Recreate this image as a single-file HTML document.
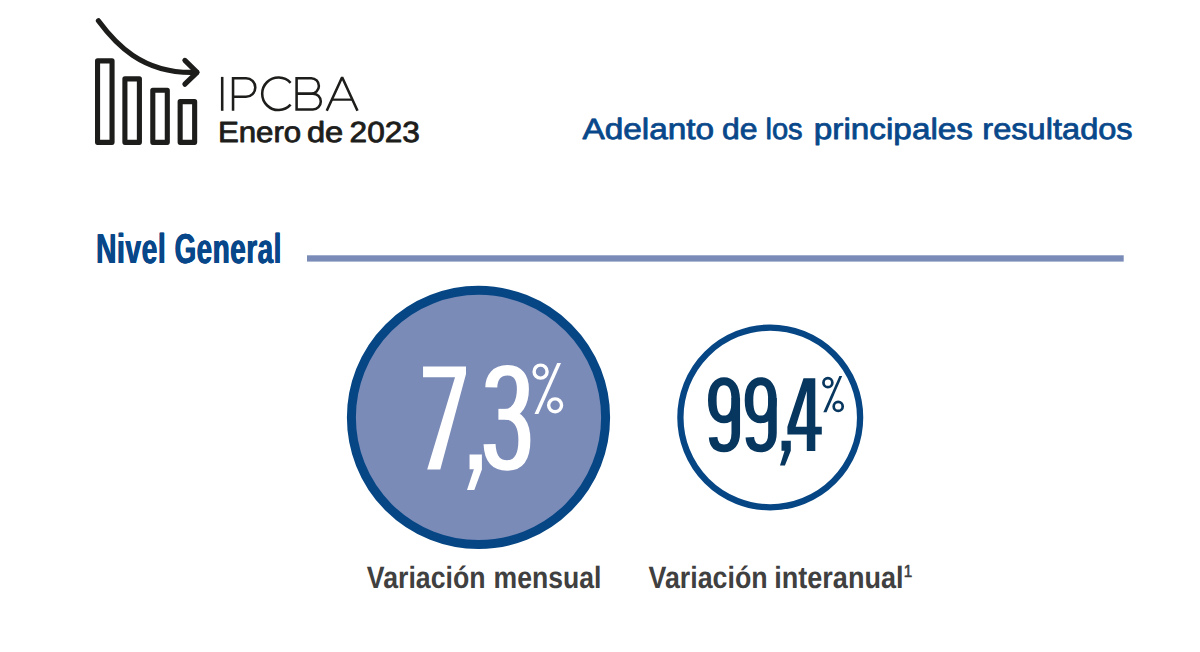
<!DOCTYPE html>
<html lang="es">
<head>
<meta charset="utf-8">
<title>IPCBA Enero de 2023</title>
<style>
html,body{margin:0;padding:0;background:#ffffff;overflow:hidden;}
body{width:1200px;height:652px;position:relative;font-family:"Liberation Sans",sans-serif;}
svg{display:block;position:absolute;left:0;top:0;}
text{font-family:"Liberation Sans",sans-serif;text-rendering:geometricPrecision;}
</style>
</head>
<body>
<svg width="1200" height="652" viewBox="0 0 1200 652">
  <rect x="0" y="0" width="1200" height="652" fill="#ffffff"/>

  <!-- logo icon: bars + arrow -->
  <g fill="none" stroke="#1d1d1b" stroke-width="5.1" stroke-linejoin="round" stroke-linecap="round">
    <rect x="97.55" y="60.85" width="14.5" height="81.5"/>
    <rect x="124.9" y="78.85" width="14.5" height="63.5"/>
    <rect x="152.8" y="90.25" width="14.5" height="52.1"/>
    <rect x="180.15" y="101.65" width="14.5" height="40.7"/>
  </g>
  <g fill="none" stroke="#1d1d1b" stroke-width="5.15" stroke-linejoin="round" stroke-linecap="round">
    <path d="M98.4,20.7 C114,41.8 141.6,74.6 196.6,72.3"/>
    <path d="M184.9,60.4 L197.1,72.3 L184.9,84.2"/>
  </g>

  <!-- IPCBA (thin geometric letters) -->
  <g fill="none" stroke="#1d1d1b" stroke-width="2.55" stroke-linejoin="miter" stroke-linecap="butt" role="img" aria-label="IPCBA">
    <title>IPCBA</title>
    <path d="M222.2,76.9 V110.8"/>
    <path d="M233.05,110.8 V78.2 H246 A9.29,9.29 0 0 1 246,96.78 H233.05"/>
    <path d="M290.6,82.84 A16.3,16.3 0 1 0 290.6,104.66"/>
    <path d="M296.6,93.6 V78.2 H311.2 A7.7,7.7 0 0 1 311.2,93.6 H296.6 V109.5 H312.85 A7.95,7.95 0 0 0 312.85,93.6 H310"/>
    <path stroke-linejoin="bevel" d="M326.75,110.8 L342.13,77.2 L357.5,110.8"/>
    <path stroke-width="2.2" d="M331.9,99.65 H352.4"/>
  </g>
  <!-- Enero de 2023 -->
  <g transform="translate(217.92,142.00) scale(1.0732,1)" font-size="29.1" font-weight="normal" fill="#1d1d1b" stroke="#1d1d1b" stroke-width="0.85" stroke-linejoin="round"><text>Enero</text></g>
  <g transform="translate(306.89,142.00) scale(1.1233,1)" font-size="29.1" font-weight="normal" fill="#1d1d1b" stroke="#1d1d1b" stroke-width="0.85" stroke-linejoin="round"><text>de</text></g>
  <g transform="translate(349.57,142.00) scale(1.0851,1)" font-size="29.1" font-weight="normal" fill="#1d1d1b" stroke="#1d1d1b" stroke-width="0.85" stroke-linejoin="round"><text>2023</text></g>

  <!-- title -->
  <g transform="translate(582.40,139.00) scale(1.1355,1)" font-size="29.4" font-weight="normal" fill="#08488a" stroke="#08488a" stroke-width="0.8" stroke-linejoin="round"><text>Adelanto</text></g>
  <g transform="translate(722.00,139.00) scale(1.0883,1)" font-size="29.4" font-weight="normal" fill="#08488a" stroke="#08488a" stroke-width="0.8" stroke-linejoin="round"><text>de</text></g>
  <g transform="translate(765.49,139.00) scale(0.9890,1)" font-size="29.4" font-weight="normal" fill="#08488a" stroke="#08488a" stroke-width="0.8" stroke-linejoin="round"><text>los</text></g>
  <g transform="translate(813.86,139.00) scale(1.1321,1)" font-size="29.4" font-weight="normal" fill="#08488a" stroke="#08488a" stroke-width="0.8" stroke-linejoin="round"><text>principales</text></g>
  <g transform="translate(982.34,139.00) scale(1.1085,1)" font-size="29.4" font-weight="normal" fill="#08488a" stroke="#08488a" stroke-width="0.8" stroke-linejoin="round"><text>resultados</text></g>

  <!-- Nivel General -->
  <g transform="translate(95.63,263.00) scale(0.6734,1)" font-size="41.87" font-weight="bold" fill="#08488a"><text id="t5" letter-spacing="0.891">Nivel</text><use href="#t5" x="0.594"/><use href="#t5" x="1.188"/></g>
  <g transform="translate(174.13,263.00) scale(0.6626,1)" font-size="41.87" font-weight="bold" fill="#08488a"><text id="t10" letter-spacing="0.905">General</text><use href="#t10" x="0.604"/><use href="#t10" x="1.207"/></g>
  <rect x="307" y="255.3" width="816.7" height="6.3" fill="#7a8bb8"/>

  <!-- circle 1 -->
  <circle cx="478.5" cy="417.45" r="127.1" fill="#7b8bb8" stroke="#064685" stroke-width="9"/>
  <g role="img" aria-label="7,3%"><title>7,3%</title>
  <g fill="#ffffff" stroke="none">
    <!-- 7 -->
    <path d="M423.05,366.4 H466 V374 L440.3,469.4 H427.2 L455,377.2 H423.05 Z"/>
    <!-- , -->
    <path d="M469.55,454.55 H481.9 V469.5 L474.3,489.9 H467 L473.9,469.3 H469.55 Z"/>
    <!-- % -->
    <path d="M557.2,363.1 H561 L538.4,413.9 H534.5 Z"/>
  </g>
  <g fill="none" stroke="#ffffff">
    <!-- 3 (drawn with horizontal stretch so vertical strokes are heavier than horizontals) -->
    <g transform="translate(507,0) scale(1.143,1) translate(-507,0)" stroke-width="10.5">
      <path d="M493.26,387.30 C493.53,377.00 498.25,370.30 507.26,370.30 C516.19,370.30 520.91,377.00 520.91,389.00 C520.91,403.00 515.75,413.50 505.69,414.30 C516.62,414.80 522.22,424.00 522.22,440.00 C522.22,458.00 516.62,465.45 507.13,465.45 C497.81,465.45 492.30,459.00 491.73,444.15"/>
    </g>
    <path stroke-width="10.9" d="M498.4,414.3 H508"/>
    <!-- % rings -->
    <circle cx="540.6" cy="371.65" r="6.5" stroke-width="3.4"/>
    <circle cx="555.1" cy="405.3" r="6.45" stroke-width="3.4"/>
  </g>
  </g>

  <!-- circle 2 -->
  <circle cx="770.25" cy="417.45" r="89.85" fill="#ffffff" stroke="#064685" stroke-width="6.3"/>
  <g role="img" aria-label="99,4%"><title>99,4%</title>
  <!-- 9 9 -->
  <path fill-rule="evenodd" fill="#07365f" d="M708,400.2 C708,384.56 714.89,377.2 724.03,377.2 C733.17,377.2 740.06,384.56 740.06,400.2 C740.06,415.84 733.17,423.2 724.03,423.2 C714.89,423.2 708,415.84 708,400.2 Z M716.6,400.4 C716.6,388.85 719.58,385.2 724.05,385.2 C728.52,385.2 731.5,388.85 731.5,400.4 C731.5,411.95 728.52,415.6 724.05,415.6 C719.58,415.6 716.6,411.95 716.6,400.4 Z"/>
  <g transform="translate(724.00,0) scale(1.126,1) translate(-724.00,0)"><path fill="none" stroke="#07365f" stroke-width="7.6" d="M734.45,398.00 L734.45,433.00 C734.45,443.50 729.77,448.40 724.00,448.40 C717.78,448.40 714.76,444.50 714.32,437.30"/></g>
  <path fill-rule="evenodd" fill="#07365f" d="M744.7,400.2 C744.7,384.56 751.59,377.2 760.73,377.2 C769.87,377.2 776.76,384.56 776.76,400.2 C776.76,415.84 769.87,423.2 760.73,423.2 C751.59,423.2 744.7,415.84 744.7,400.2 Z M753.3,400.4 C753.3,388.85 756.28,385.2 760.75,385.2 C765.22,385.2 768.2,388.85 768.2,400.4 C768.2,411.95 765.22,415.6 760.75,415.6 C756.28,415.6 753.3,411.95 753.3,400.4 Z"/>
  <g transform="translate(760.70,0) scale(1.126,1) translate(-724.00,0)"><path fill="none" stroke="#07365f" stroke-width="7.6" d="M734.45,398.00 L734.45,433.00 C734.45,443.50 729.77,448.40 724.00,448.40 C717.78,448.40 714.76,444.50 714.32,437.30"/></g>
  <g fill="#07365f" stroke="none">
    <!-- , -->
    <path d="M781.5,440.7 H790.8 V450.7 L784.9,465.6 H780 L784.6,450.7 H781.5 Z"/>
    <!-- 4 -->
    <path fill-rule="evenodd" d="M803.5,378.3 H815.3 V426.8 H821.8 V434.6 H815.3 V450.9 H806.8 V434.6 H787.4 V426.8 Z M806.8,391 V426.8 H795.7 Z"/>
    <!-- % slash -->
    <path d="M839.4,376.1 H842.2 L826.5,412.15 H823.3 Z"/>
  </g>
  <g fill="none" stroke="#07365f" stroke-width="2.7">
    <circle cx="827.9" cy="382.65" r="4.45"/>
    <circle cx="838.2" cy="406.4" r="4.5"/>
  </g>
  </g>

  <!-- labels -->
  <g transform="translate(366.84,588.00) scale(0.8666,1)" font-size="30.8" font-weight="bold" fill="#404040"><text>Variación</text></g>
  <g transform="translate(493.59,588.00) scale(0.8622,1)" font-size="30.8" font-weight="bold" fill="#404040"><text>mensual</text></g>
  <g transform="translate(648.57,588.00) scale(0.8691,1)" font-size="30.8" font-weight="bold" fill="#404040"><text>Variación</text></g>
  <g transform="translate(774.25,588.00) scale(0.8784,1)" font-size="30.8" font-weight="bold" fill="#404040"><text>interanual</text></g>
  <g transform="translate(903.87,577.00) scale(0.8866,1)" font-size="17.3" font-weight="normal" fill="#404040" stroke="#404040" stroke-width="0.6" stroke-linejoin="round"><text>1</text></g>
</svg>
</body>
</html>
